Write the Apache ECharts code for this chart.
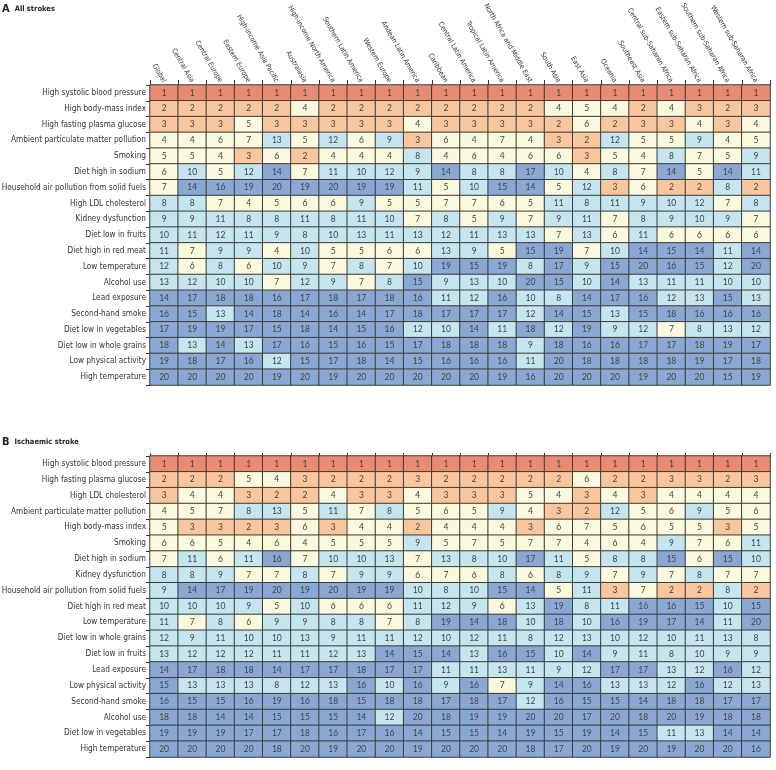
<!DOCTYPE html>
<html>
<head>
<meta charset="utf-8">
<script src="https://cdn.jsdelivr.net/npm/echarts@6/dist/echarts.min.js"></script>
<style>
html,body{margin:0;padding:0;background:#fff;}
#chart{width:776px;height:770px;}
</style>
</head>
<body>
<div id="chart"></div>
<script>
var regions = ["Global","Central Asia","Central Europe","Eastern Europe","High-income Asia Pacific","Australasia","High-income North America","Southern Latin America","Western Europe","Andean Latin America","Caribbean","Central Latin America","Tropical Latin America","North Africa and Middle East","South Asia","East Asia","Oceania","Southeast Asia","Central sub-Saharan Africa","Eastern sub-Saharan Africa","Southern sub-Saharan Africa","Western sub-Saharan Africa"];

var risksA = ["High systolic blood pressure","High body-mass index","High fasting plasma glucose","Ambient particulate matter pollution","Smoking","Diet high in sodium","Household air pollution from solid fuels","High LDL cholesterol","Kidney dysfunction","Diet low in fruits","Diet high in red meat","Low temperature","Alcohol use","Lead exposure","Second-hand smoke","Diet low in vegetables","Diet low in whole grains","Low physical activity","High temperature"];

var ranksA = [
[1,1,1,1,1,1,1,1,1,1,1,1,1,1,1,1,1,1,1,1,1,1],
[2,2,2,2,2,4,2,2,2,2,2,2,2,2,4,5,4,2,4,3,2,3],
[3,3,3,5,3,3,3,3,3,4,3,3,3,3,2,6,2,3,3,4,3,4],
[4,4,6,7,13,5,12,6,9,3,6,4,7,4,3,2,12,5,5,9,4,5],
[5,5,4,3,6,2,4,4,4,8,4,6,4,6,6,3,5,4,8,7,5,9],
[6,10,5,12,14,7,11,10,12,9,14,8,8,17,10,4,8,7,14,5,14,11],
[7,14,16,19,20,19,20,19,19,11,5,10,15,14,5,12,3,6,2,2,8,2],
[8,8,7,4,5,6,6,9,5,5,7,7,6,5,11,8,11,9,10,12,7,8],
[9,9,11,8,8,11,8,11,10,7,8,5,9,7,9,11,7,8,9,10,9,7],
[10,11,12,11,9,8,10,13,11,13,12,11,13,13,7,13,6,11,6,6,6,6],
[11,7,9,9,4,10,5,5,6,6,13,9,5,15,19,7,10,14,15,14,11,14],
[12,6,8,6,10,9,7,8,7,10,19,15,19,8,17,9,15,20,16,15,12,20],
[13,12,10,10,7,12,9,7,8,15,9,13,10,20,15,10,14,13,11,11,10,10],
[14,17,18,18,16,17,18,17,18,16,11,12,16,10,8,14,17,16,12,13,15,13],
[16,15,13,14,18,14,16,14,17,18,17,17,17,12,14,15,13,15,18,16,16,16],
[17,19,19,17,15,18,14,15,16,12,10,14,11,18,12,19,9,12,7,8,13,12],
[18,13,14,13,17,16,15,16,15,17,18,18,18,9,18,16,16,17,17,18,19,17],
[19,18,17,16,12,15,17,18,14,15,16,16,16,11,20,18,18,18,18,19,17,18],
[20,20,20,20,19,20,19,20,20,20,20,20,19,16,20,20,20,19,20,20,15,19]
];

var risksB = ["High systolic blood pressure","High fasting plasma glucose","High LDL cholesterol","Ambient particulate matter pollution","High body-mass index","Smoking","Diet high in sodium","Kidney dysfunction","Household air pollution from solid fuels","Diet high in red meat","Low temperature","Diet low in whole grains","Diet low in fruits","Lead exposure","Low physical activity","Second-hand smoke","Alcohol use","Diet low in vegetables","High temperature"];

var ranksB = [
[1,1,1,1,1,1,1,1,1,1,1,1,1,1,1,1,1,1,1,1,1,1],
[2,2,2,5,4,3,2,2,2,3,2,2,2,2,2,6,2,2,3,3,2,3],
[3,4,4,3,2,2,4,3,3,4,3,3,3,5,4,3,4,3,4,4,4,4],
[4,5,7,8,13,5,11,7,8,5,6,5,9,4,3,2,12,5,6,9,5,6],
[5,3,3,2,3,6,3,4,4,2,4,4,4,3,6,7,5,6,5,5,3,5],
[6,6,5,4,6,4,5,5,5,9,5,7,5,7,7,4,6,4,9,7,6,11],
[7,11,6,11,16,7,10,10,13,7,13,8,10,17,11,5,8,8,15,6,15,10],
[8,8,9,7,7,8,7,9,9,6,7,6,8,6,8,9,7,9,7,8,7,7],
[9,14,17,19,20,19,20,19,19,10,8,10,15,14,5,11,3,7,2,2,8,2],
[10,10,10,9,5,10,6,6,6,11,12,9,6,13,19,8,11,16,16,15,10,15],
[11,7,8,6,9,9,8,8,7,8,19,14,18,10,18,10,16,19,17,14,11,20],
[12,9,11,10,10,13,9,11,11,12,10,12,11,8,12,13,10,12,10,11,13,8],
[13,12,12,12,11,11,12,13,14,15,14,13,16,15,10,14,9,11,8,10,9,9],
[14,17,18,18,14,17,17,18,17,17,11,11,13,11,9,12,17,17,13,12,16,12],
[15,13,13,13,8,12,13,16,10,16,9,16,7,9,14,16,13,13,12,16,12,13],
[16,15,15,16,19,16,18,15,18,18,17,18,17,12,16,15,15,14,18,18,17,17],
[18,18,14,14,15,15,15,14,12,20,18,19,19,20,20,17,20,18,20,19,18,18],
[19,19,19,17,17,18,16,17,16,14,15,15,14,19,15,19,14,15,11,13,14,14],
[20,20,20,20,18,20,19,20,20,19,20,20,20,18,17,20,19,20,19,20,20,16]
];

function toCells(ranks){
  var out=[];
  for(var r=0;r<ranks.length;r++){
    for(var c=0;c<ranks[r].length;c++){
      out.push([c,r,ranks[r][c]]);
    }
  }
  return out;
}

var FONT = "'DejaVu Sans Condensed','DejaVu Sans',sans-serif";
var chart = echarts.init(document.getElementById('chart'), null, {renderer:'canvas'});

function xAx(idx, showLabels){
  return {
    type:'category', gridIndex:idx, position:'top', data:regions,
    axisLine:{show:true, lineStyle:{color:'#333', width:1}},
    axisTick:{show:true, length:showLabels?5:3, lineStyle:{color:'#333'}},
    axisLabel:{show:showLabels, rotate:60, interval:0, fontSize:7.0, color:'#333', fontFamily:FONT, margin:3},
    splitLine:{show:false}
  };
}
function yAx(idx, data){
  return {
    type:'category', gridIndex:idx, data:data, inverse:true,
    axisLine:{show:true, lineStyle:{color:'#333', width:1}},
    axisTick:{show:true, length:4, lineStyle:{color:'#333'}},
    axisLabel:{fontSize:8.2, color:'#333', fontFamily:FONT, margin:4, interval:0},
    splitLine:{show:false}
  };
}
function hm(idx, ranks){
  return {
    type:'heatmap', xAxisIndex:idx, yAxisIndex:idx, data:toCells(ranks),
    label:{show:true, fontSize:8.5, color:'#444', fontFamily:"Lato,'Open Sans',sans-serif"},
    itemStyle:{borderColor:'#3c3c3c', borderWidth:1},
    emphasis:{disabled:true}
  };
}

chart.setOption({
  animation:false,
  backgroundColor:'#fff',
  title:[
    {left:2, top:0, padding:0, text:'{a|A} {b|All strokes}', textStyle:{rich:{a:{fontSize:11, color:'#222', fontFamily:FONT}, b:{fontSize:7.5, fontWeight:'bold', color:'#222', fontFamily:FONT}}}},
    {left:2, top:433, padding:0, text:'{a|B} {b|Ischaemic stroke}', textStyle:{rich:{a:{fontSize:11, color:'#222', fontFamily:FONT}, b:{fontSize:7.5, fontWeight:'bold', color:'#222', fontFamily:FONT}}}}
  ],
  grid:[
    {left:150, right:6, top:85, height:300, containLabel:false, outerBoundsMode:'none'},
    {left:150, right:6, top:456, height:301, containLabel:false, outerBoundsMode:'none'}
  ],
  xAxis:[xAx(0,true), xAx(1,false)],
  yAxis:[yAx(0,risksA), yAx(1,risksB)],
  visualMap:{
    type:'piecewise', show:false, dimension:2, seriesIndex:[0,1],
    pieces:[
      {min:1,max:1,color:'#E98A72'},
      {min:2,max:3,color:'#FAC69D'},
      {min:4,max:7,color:'#FAF8DD'},
      {min:8,max:13,color:'#C5E6EF'},
      {min:14,max:20,color:'#8AA8D3'}
    ]
  },
  series:[hm(0,ranksA), hm(1,ranksB)]
});
</script>
</body>
</html>
